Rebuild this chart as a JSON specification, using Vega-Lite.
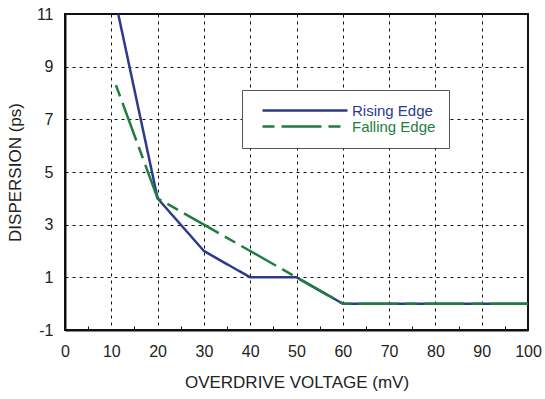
{
  "$schema": "https://vega.github.io/schema/vega-lite/v6.json",
  "autosize": {"type": "none"},
  "width": 463,
  "height": 316,
  "padding": {"left": 65, "top": 14, "right": 17, "bottom": 69},
  "background": "white",
  "config": {
    "font": "Liberation Sans",
    "view": {"stroke": "#111", "strokeWidth": 2},
    "axis": {
      "domainColor": "#111", "domainWidth": 2,
      "gridColor": "#111", "gridDash": [3, 4], "gridWidth": 1, "gridOpacity": 1,
      "labelFont": "Liberation Sans", "labelFontSize": 16, "labelColor": "#222", "labelFlush": false,
      "titleFont": "Liberation Sans", "titleFontSize": 17, "titleFontWeight": "normal", "titleColor": "#222"
    }
  },
  "data": {
    "values": [
      {"series": "Rising Edge", "mv": 11.5, "ps": 11},
      {"series": "Rising Edge", "mv": 20, "ps": 4},
      {"series": "Rising Edge", "mv": 30, "ps": 2},
      {"series": "Rising Edge", "mv": 40, "ps": 1},
      {"series": "Rising Edge", "mv": 50, "ps": 1},
      {"series": "Rising Edge", "mv": 60, "ps": 0},
      {"series": "Rising Edge", "mv": 100, "ps": 0},
      {"series": "Falling Edge", "mv": 11, "ps": 8.3},
      {"series": "Falling Edge", "mv": 20, "ps": 4},
      {"series": "Falling Edge", "mv": 30, "ps": 3},
      {"series": "Falling Edge", "mv": 40, "ps": 2},
      {"series": "Falling Edge", "mv": 50, "ps": 1},
      {"series": "Falling Edge", "mv": 60, "ps": 0},
      {"series": "Falling Edge", "mv": 100, "ps": 0}
    ]
  },
  "mark": {"type": "line", "strokeWidth": 2.5},
  "encoding": {
    "x": {
      "field": "mv", "type": "quantitative",
      "scale": {"domain": [0, 100], "nice": false},
      "axis": {
        "values": [0,5,10,15,20,25,30,35,40,45,50,55,60,65,70,75,80,85,90,95,100],
        "labelExpr": "datum.value % 10 === 0 ? datum.label : ''",
        "labelOverlap": false,
        "title": "OVERDRIVE VOLTAGE (mV)", "labelPadding": 17, "titlePadding": 15,
        "tickSize": -4, "tickWidth": 1,
        "tickColor": {"condition": {"test": "datum.value % 10 !== 0", "value": "#111"}, "value": "transparent"},
        "gridColor": {"condition": {"test": "datum.value % 10 === 0", "value": "#111"}, "value": "transparent"}
      }
    },
    "y": {
      "field": "ps", "type": "quantitative",
      "scale": {"domain": [-1, 11], "nice": false, "zero": false},
      "axis": {"values": [-1,1,3,5,7,9,11], "labelExpr": "'' + datum.value", "ticks": false, "title": "DISPERSION (ps)", "labelPadding": 12, "titlePadding": 12}
    },
    "color": {
      "field": "series", "type": "nominal",
      "scale": {"domain": ["Rising Edge", "Falling Edge"], "range": ["#2b3a8f", "#1f7d3f"]},
      "legend": {
        "title": null, "orient": "none", "legendX": 177, "legendY": 76,
        "strokeColor": "#555", "padding": 13, "fillColor": "white",
        "symbolType": "M0,0H17", "symbolSize": 100, "symbolStrokeWidth": 2.5,
        "labelFontSize": 15, "labelOffset": 82, "rowPadding": 0,
        "labelFont": "Liberation Sans",
        "encode": {"labels": {"update": {"fill": {"signal": "datum.label === 'Rising Edge' ? '#2b3a8f' : '#1f7d3f'"}}}}
      }
    },
    "strokeDash": {
      "field": "series", "type": "nominal",
      "scale": {"domain": ["Rising Edge", "Falling Edge"], "range": [[1, 0], [12, 7, 40, 7]]},
      "legend": null
    }
  }
}
